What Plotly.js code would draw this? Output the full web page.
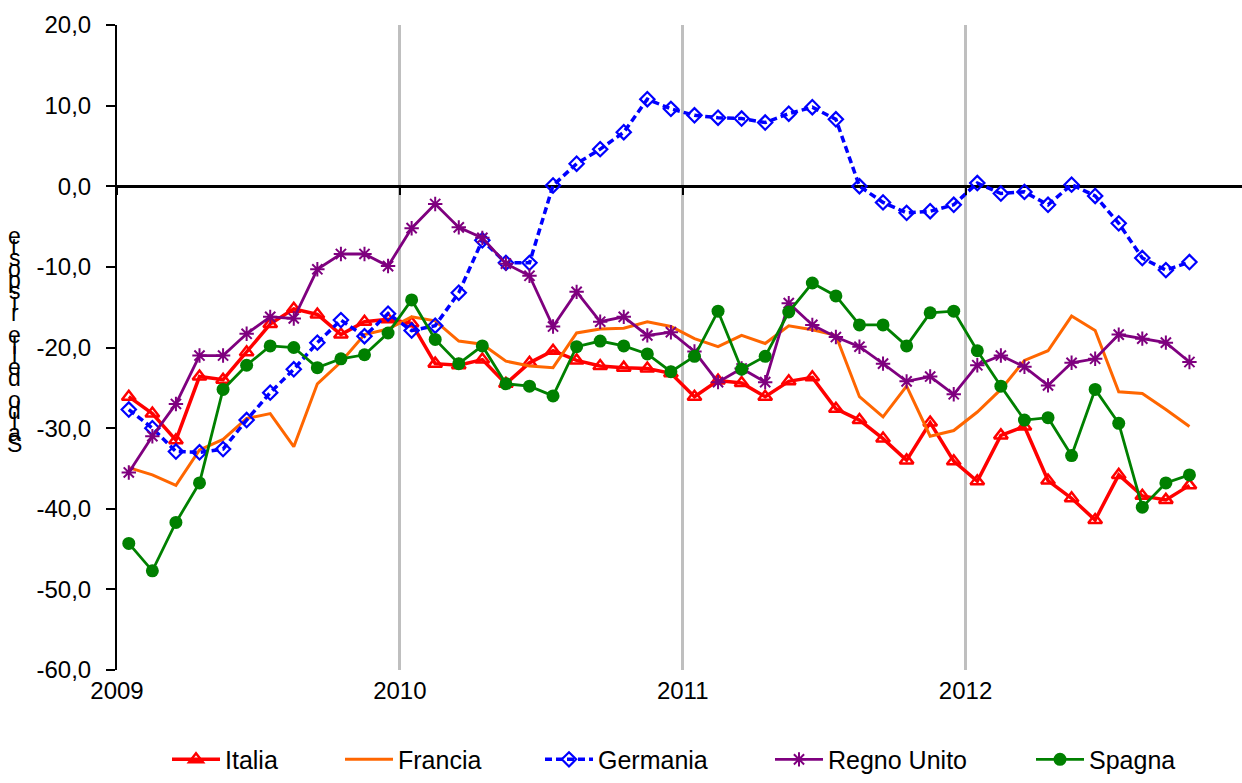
<!DOCTYPE html>
<html>
<head>
<meta charset="utf-8">
<script src="https://cdn.plot.ly/plotly-3.0.1.min.js"></script>
<style>
html,body{margin:0;padding:0;background:#ffffff;}
#chart{width:1242px;height:783px;}
</style>
</head>
<body>
<div id="chart"></div>
<script>
// ---- categories (months) ----
const months = [
  'gen 2009','feb 2009','mar 2009','apr 2009','mag 2009','giu 2009','lug 2009','ago 2009','set 2009','ott 2009','nov 2009','dic 2009',
  'gen 2010','feb 2010','mar 2010','apr 2010','mag 2010','giu 2010','lug 2010','ago 2010','set 2010','ott 2010','nov 2010','dic 2010',
  'gen 2011','feb 2011','mar 2011','apr 2011','mag 2011','giu 2011','lug 2011','ago 2011','set 2011','ott 2011','nov 2011','dic 2011',
  'gen 2012','feb 2012','mar 2012','apr 2012','mag 2012','giu 2012','lug 2012','ago 2012','set 2012','ott 2012'
];
const yearLabels = ['2009','2010','2011','2012'];

// ---- series ----
const italia = [-26.1,-28.2,-31.5,-23.6,-24.0,-20.6,-17.1,-15.2,-15.9,-18.4,-16.8,-16.5,
                -17.0,-22.0,-22.2,-21.5,-24.5,-21.9,-20.4,-21.6,-22.3,-22.5,-22.6,-23.2,
                -26.1,-24.1,-24.4,-26.1,-24.2,-23.7,-27.6,-29.0,-31.3,-34.0,-29.3,-34.1,
                -36.6,-30.9,-29.8,-36.5,-38.7,-41.4,-35.8,-38.4,-38.9,-37.1];
const francia = [-34.9,-35.8,-37.1,-32.7,-31.4,-28.8,-28.2,-32.3,-24.5,-21.8,-18.4,-17.7,
                 -16.2,-16.7,-19.2,-19.6,-21.7,-22.3,-22.5,-18.2,-17.7,-17.6,-16.8,-17.4,
                 -18.9,-19.9,-18.5,-19.5,-17.3,-17.8,-18.5,-26.1,-28.6,-24.8,-31.0,-30.3,
                 -28.0,-25.2,-21.6,-20.4,-16.1,-17.9,-25.5,-25.7,-27.7,-29.8];
const germania = [-27.7,-30.0,-32.9,-33.0,-32.6,-29.0,-25.6,-22.7,-19.4,-16.6,-18.6,-15.8,
                  -17.9,-17.3,-13.2,-6.7,-9.5,-9.5,0.1,2.8,4.6,6.7,10.8,9.6,
                  8.8,8.5,8.4,7.9,9.0,9.8,8.3,0.0,-2.0,-3.3,-3.1,-2.3,
                  0.4,-0.9,-0.7,-2.3,0.2,-1.2,-4.6,-8.9,-10.4,-9.4];
const regnoUnito = [-35.5,-31.0,-27.0,-21.0,-21.0,-18.3,-16.2,-16.4,-10.3,-8.4,-8.4,-9.9,
                    -5.2,-2.2,-5.1,-6.4,-9.6,-11.1,-17.4,-13.1,-16.8,-16.2,-18.5,-18.1,
                    -20.5,-24.3,-22.6,-24.3,-14.5,-17.2,-18.7,-19.9,-22.0,-24.2,-23.6,-25.8,
                    -22.2,-21.0,-22.4,-24.7,-21.9,-21.4,-18.4,-18.9,-19.4,-21.8];
const spagna = [-44.3,-47.7,-41.7,-36.8,-25.2,-22.2,-19.8,-20.0,-22.5,-21.4,-20.9,-18.2,
                -14.1,-19.0,-22.0,-19.8,-24.5,-24.8,-26.0,-19.9,-19.2,-19.8,-20.8,-23.0,
                -21.1,-15.5,-22.7,-21.1,-15.6,-12.0,-13.6,-17.2,-17.2,-19.8,-15.7,-15.5,
                -20.4,-24.8,-29.0,-28.7,-33.4,-25.2,-29.4,-39.8,-36.8,-35.8];
const seriesNames = ['Italia','Francia','Germania','Regno Unito','Spagna'];
const yTicks = [-60,-50,-40,-30,-20,-10,0,10,20];
const yTitle = 'Saldo delle risposte';

// ---- build ----
const xIdx = months.map((m, i) => i);
const yearPos = yearLabels.map(y => months.indexOf('gen ' + y) - 0.5);
const yTickText = yTicks.map(v => v.toFixed(1).replace('.', ','));
const FONT = 'Liberation Sans, Arial, sans-serif';

const traces = [
  {name: seriesNames[0], x: xIdx, y: italia, text: months, mode: 'lines+markers', legend: 'legend',
   line: {color: '#FF0000', width: 3.5},
   marker: {symbol: 'triangle-up-open', size: 12, color: '#FF0000', line: {width: 2.5, color: '#FF0000'}}},
  {name: seriesNames[1], x: xIdx, y: francia, text: months, mode: 'lines', legend: 'legend2',
   line: {color: '#FF6600', width: 3}},
  {name: seriesNames[2], x: xIdx, y: germania, text: months, mode: 'lines+markers', legend: 'legend3',
   line: {color: '#0000FF', width: 3.5, dash: '7px,4px'},
   marker: {symbol: 'diamond-open', size: 11, color: '#0000FF', line: {width: 2.2, color: '#0000FF'}}},
  {name: seriesNames[3], x: xIdx, y: regnoUnito, text: months, mode: 'lines+markers', legend: 'legend4',
   line: {color: '#7F007F', width: 2.8},
   marker: {symbol: 'asterisk-open', size: 12, color: '#7F007F', line: {width: 2, color: '#7F007F'}}},
  {name: seriesNames[4], x: xIdx, y: spagna, text: months, mode: 'lines+markers', legend: 'legend5',
   line: {color: '#008000', width: 2.8},
   marker: {symbol: 'circle', size: 13, color: '#008000'}},
  {x: [], y: [], xaxis: 'x2', showlegend: false, hoverinfo: 'skip'}
];

const plotL = 117, plotR = 1242, plotT = 25, plotB = 673;
const pxPerMonth = 23.57;
const xRange = [-0.5, -0.5 + (plotR - plotL) / pxPerMonth];

function legendAt(px) {
  return {x: (px - plotL) / (plotR - plotL), y: (plotB - 763) / (plotB - plotT),
          xanchor: 'left', yanchor: 'middle', orientation: 'h',
          bgcolor: 'rgba(0,0,0,0)', borderwidth: 0, itemwidth: 48,
          font: {family: FONT, size: 25, color: '#000'}};
}

// y title drawn as upright stacked letters (bottom to top), as in the reference
const annotations = yTitle.split('').map((ch, i) => ({
  text: ch, xref: 'paper', yref: 'paper', showarrow: false,
  x: (15 - plotL) / (plotR - plotL), xanchor: 'center',
  y: (plotB - (446 - i * 11.0)) / (plotB - plotT), yanchor: 'middle',
  font: {family: FONT, size: 23, color: '#000'}
}));

const layout = {
  width: 1242, height: 783,
  margin: {l: plotL, r: 1242 - plotR, t: plotT, b: 783 - plotB, pad: 0},
  paper_bgcolor: '#ffffff', plot_bgcolor: '#ffffff',
  separators: ',.',
  font: {family: FONT, size: 24, color: '#000'},
  showlegend: true,
  xaxis: {range: xRange, tickvals: yearPos, ticktext: yearLabels, showgrid: true,
          gridcolor: '#BFBFBF', gridwidth: 3, zeroline: false, showline: false, ticks: '',
          ticklabelstandoff: 4,
          tickfont: {family: FONT, size: 24, color: '#000'}, fixedrange: true},
  xaxis2: {overlaying: 'x', anchor: 'free', position: 0.75, range: xRange,
           tickvals: yearPos, ticks: 'outside', ticklen: 8, tickwidth: 2, tickcolor: '#000',
           showticklabels: false, showgrid: false, zeroline: false, showline: false},
  yaxis: {range: [-60, 20], tickvals: yTicks, ticktext: yTickText, showgrid: false,
          zeroline: true, zerolinecolor: '#000', zerolinewidth: 2.5,
          showline: true, linecolor: '#000', linewidth: 2, ticks: 'outside', ticklen: 9,
          tickwidth: 2, tickcolor: '#000', ticklabelstandoff: 10,
          tickfont: {family: FONT, size: 24, color: '#000'},
          fixedrange: true},
  legend: legendAt(167),
  legend2: legendAt(340),
  legend3: legendAt(540),
  legend4: legendAt(770),
  legend5: legendAt(1031),
  annotations: annotations
};

Plotly.newPlot('chart', traces, layout, {displayModeBar: false, staticPlot: true});
</script>
</body>
</html>
